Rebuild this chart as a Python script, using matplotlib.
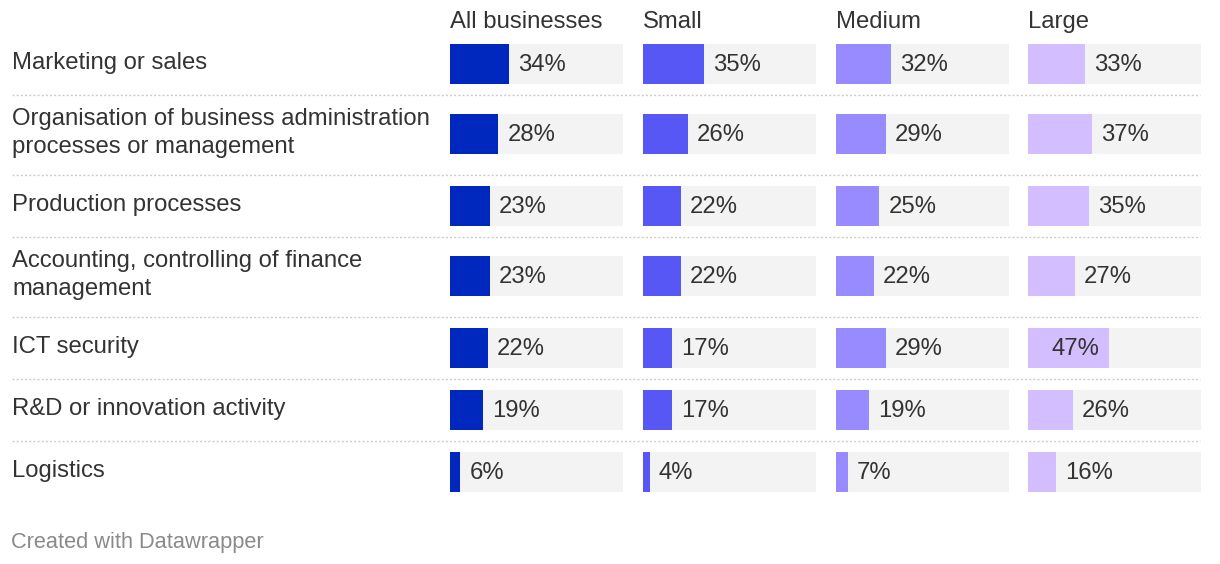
import matplotlib.pyplot as plt

plt.rcParams['font.family'] = ['Liberation Sans', 'DejaVu Sans']

# data
categories = [
    'Marketing or sales',
    'Organisation of business administration\nprocesses or management',
    'Production processes',
    'Accounting, controlling of finance\nmanagement',
    'ICT security',
    'R&D or innovation activity',
    'Logistics',
]
groups = ['All businesses', 'Small', 'Medium', 'Large']
all_businesses = [34, 28, 23, 23, 22, 19, 6]
small = [35, 26, 22, 22, 17, 17, 4]
medium = [32, 29, 25, 22, 29, 19, 7]
large = [33, 37, 35, 27, 47, 26, 16]
series = [all_businesses, small, medium, large]
colors = ['#0028be', '#5757f5', '#978bff', '#d3bfff']

W, H = 1220, 564
TEXT = '#333333'
FS = 17.2

fig = plt.figure(figsize=(W / 100, H / 100), dpi=100)
base = fig.add_axes([0, 0, 1, 1])
base.set_xlim(0, W)
base.set_ylim(H, 0)
base.axis('off')

# row layout (pixels): single-line rows are shorter than two-line rows
row_top = 33
centers = []
for i, cat in enumerate(categories):
    nlines = cat.count('\n') + 1
    pad = 11 if nlines == 1 else 19
    pitch = 62 if nlines == 1 else 80
    c = row_top + pad + 20
    centers.append(c)
    lines = cat.split('\n')
    for k, line in enumerate(lines):
        yb = c + 5 - (nlines - 1) * 14 + k * 28
        base.text(12, yb, line, fontsize=FS, color=TEXT, va='baseline', ha='left')
    if i > 0:
        base.plot([12, 1200], [row_top, row_top], color='#cccccc', lw=1.0,
                  linestyle=(0, (1.5, 1.5)))
    row_top += pitch

col_x = [450, 643, 836, 1028]
col_w = 173
for j, (name, vals, col) in enumerate(zip(groups, series, colors)):
    base.text(col_x[j], 28, name, fontsize=FS, color=TEXT, va='baseline', ha='left')
    ax = fig.add_axes([col_x[j] / W, 0, col_w / W, 1])
    ax.set_xlim(0, 100)
    ax.set_ylim(H, 0)
    ax.axis('off')
    ax.patch.set_alpha(0)
    ax.barh(centers, [100] * len(vals), height=40, color='#f3f3f3')
    ax.barh(centers, vals, height=40, color=col)
    for c, v in zip(centers, vals):
        if v >= 40:
            ax.annotate(f'{v}%', xy=(v, c + 7), xytext=(-7, 0), textcoords='offset points',
                        ha='right', va='baseline', fontsize=FS, color=TEXT)
        else:
            ax.annotate(f'{v}%', xy=(v, c + 7), xytext=(6.5, 0), textcoords='offset points',
                        ha='left', va='baseline', fontsize=FS, color=TEXT)

base.text(11, 548, 'Created with Datawrapper', fontsize=15.7, color='#8a8a8a',
          va='baseline', ha='left')

fig.savefig('out.png', dpi=100)
